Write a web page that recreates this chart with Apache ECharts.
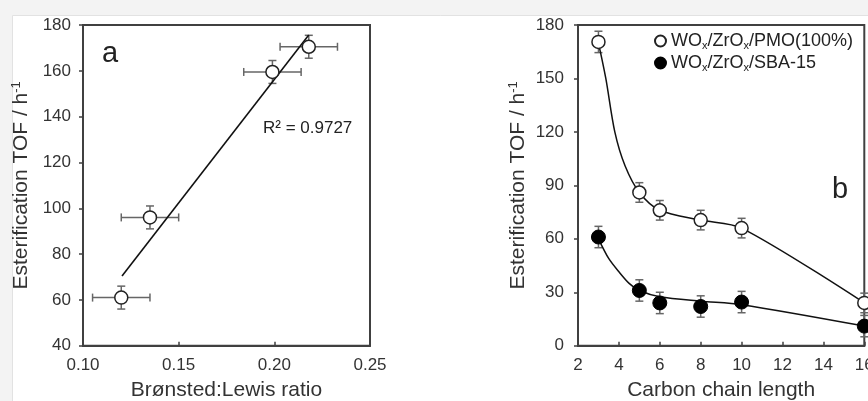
<!DOCTYPE html>
<html>
<head>
<meta charset="utf-8">
<script src="https://cdn.jsdelivr.net/npm/echarts@6/dist/echarts.min.js"></script>
<style>
html,body{margin:0;padding:0;background:#f3f3f3;}
#c{width:868px;height:401px;}
</style>
</head>
<body>
<div id="c"></div>
<script>
// ---- Panel a data ----
const ratioX = [0.120, 0.135, 0.199, 0.218];
const tofA = [61, 96, 159.5, 170.5];
const ratioErr = [0.015, 0.015, 0.015, 0.015];
const tofAErr = [5, 5, 5, 5];
const fitX = [0.1204, 0.218];
const fitY = [70.4, 175.6];
const r2Text = 'R² = 0.9727';
const xTicksA = [0.10, 0.15, 0.20, 0.25];
const yTicksA = [40, 60, 80, 100, 120, 140, 160, 180];

// ---- Panel b data ----
const chainLength = [3, 5, 6, 8, 10, 16];
const tofPMO = [170.5, 86, 76, 70.5, 66, 24];
const tofSBA = [61, 31, 24, 22, 24.5, 11];
const errPMO = [6, 5.5, 5.5, 5.5, 5.5, 5.5];
const errSBA = [6, 6, 6, 6, 6, 6];
// trend curves as traced in the picture
const curvePMOx = [3, 3.36, 3.8, 4.3, 5, 6, 8, 10, 16];
const curvePMOy = [170, 150, 120, 101, 86, 76, 70.5, 66, 24];
const curveSBAx = [3, 3.5, 4, 4.5, 5, 6, 8, 10, 16];
const curveSBAy = [60, 49, 41.5, 35, 31, 27.5, 25, 23, 11];
const xTicksB = [2, 4, 6, 8, 10, 12, 14, 16];
const yTicksB = [0, 30, 60, 90, 120, 150, 180];
const seriesNames = ['PMO', 'SBA'];
const legendLabels = {PMO: 'WO{sub|x}/ZrO{sub|x}/PMO(100%)', SBA: 'WO{sub|x}/ZrO{sub|x}/SBA-15'};

const FONT = '"Liberation Sans", Arial, sans-serif';
const AX = '#404040';

function zip(a, b) { return a.map((v, i) => [v, b[i]]); }
function errData(xs, ys, dxs, dys) { return xs.map((v, i) => [v, ys[i], dxs ? dxs[i] : 0, dys[i]]); }

function errRender(params, api) {
  const x = api.value(0), y = api.value(1), dx = api.value(2), dy = api.value(3);
  const st = {stroke: '#666', lineWidth: 1.5};
  const ch = [];
  const top = api.coord([x, y + dy]), bot = api.coord([x, y - dy]);
  ch.push({type: 'line', shape: {x1: top[0], y1: top[1], x2: bot[0], y2: bot[1]}, style: st});
  ch.push({type: 'line', shape: {x1: top[0] - 4, y1: top[1], x2: top[0] + 4, y2: top[1]}, style: st});
  ch.push({type: 'line', shape: {x1: bot[0] - 4, y1: bot[1], x2: bot[0] + 4, y2: bot[1]}, style: st});
  if (dx > 0) {
    const l = api.coord([x - dx, y]), r = api.coord([x + dx, y]);
    ch.push({type: 'line', shape: {x1: l[0], y1: l[1], x2: r[0], y2: r[1]}, style: st});
    ch.push({type: 'line', shape: {x1: l[0], y1: l[1] - 4, x2: l[0], y2: l[1] + 4}, style: st});
    ch.push({type: 'line', shape: {x1: r[0], y1: r[1] - 4, x2: r[0], y2: r[1] + 4}, style: st});
  }
  return {type: 'group', children: ch};
}

function yAxisCommon(min, max, interval, gridIndex, margin, gap) {
  return {
    type: 'value', gridIndex, min, max, interval,
    axisLine: {show: true, lineStyle: {color: AX, width: 2}},
    axisTick: {show: true, inside: false, length: 4, lineStyle: {color: AX, width: 1.5}},
    axisLabel: {color: '#333', fontSize: 17, fontFamily: FONT, margin},
    splitLine: {show: false},
    name: 'Esterification TOF / h{sup|-1}',
    nameLocation: 'middle', nameGap: gap,
    nameTextStyle: {color: '#333', fontSize: 21, fontFamily: FONT,
      rich: {sup: {fontSize: 13, fontFamily: FONT, color: '#333', padding: [0, 0, 10, 0]}}}
  };
}
function xAxisCommon(min, max, interval, gridIndex, name, fmt) {
  return {
    type: 'value', gridIndex, min, max, interval,
    axisLine: {show: true, lineStyle: {color: AX, width: 2}},
    axisTick: {show: true, inside: true, length: 4, lineStyle: {color: AX, width: 1.5}},
    axisLabel: {color: '#333', fontSize: 17, fontFamily: FONT, margin: 11, formatter: fmt},
    splitLine: {show: false},
    name, nameLocation: 'middle', nameGap: 34,
    nameTextStyle: {color: '#333', fontSize: 21, fontFamily: FONT}
  };
}

const chart = echarts.init(document.getElementById('c'), null, {renderer: 'canvas'});
const option = {
  animation: false,
  backgroundColor: '#f3f3f3',
  graphic: [
    {type: 'rect', z: -10, shape: {x: 12.5, y: 15.5, width: 870, height: 400}, style: {fill: '#fff', stroke: '#e2e2e2', lineWidth: 1}},
    {type: 'text', x: 102, y: 39, style: {text: 'a', fontSize: 29, fontFamily: FONT, fill: '#222'}},
    {type: 'text', x: 832, y: 175, style: {text: 'b', fontSize: 29, fontFamily: FONT, fill: '#222'}},
    {type: 'text', x: 263, y: 120, style: {text: r2Text, fontSize: 17, fontFamily: FONT, fill: '#222'}}
  ],
  grid: [
    {left: 83, top: 25, width: 287, height: 320.7, show: true, borderColor: AX, borderWidth: 2,
      backgroundColor: 'transparent', containLabel: false, outerBoundsMode: 'none'},
    {left: 578, top: 25, width: 286.3, height: 320.7, show: true, borderColor: AX, borderWidth: 2,
      backgroundColor: 'transparent', containLabel: false, outerBoundsMode: 'none'}
  ],
  xAxis: [
    xAxisCommon(xTicksA[0], xTicksA[xTicksA.length - 1], 0.05, 0, 'Brønsted:Lewis ratio', v => v.toFixed(2)),
    xAxisCommon(xTicksB[0], xTicksB[xTicksB.length - 1], 2, 1, 'Carbon chain length')
  ],
  yAxis: [
    yAxisCommon(yTicksA[0], yTicksA[yTicksA.length - 1], 20, 0, 12, 50),
    yAxisCommon(yTicksB[0], yTicksB[yTicksB.length - 1], 30, 1, 14, 48)
  ],
  legend: {
    orient: 'vertical', left: 649, top: 27, itemGap: 3,
    icon: 'circle', itemWidth: 11, itemHeight: 11,
    data: seriesNames,
    formatter: n => legendLabels[n],
    textStyle: {color: '#222', fontSize: 18, fontFamily: FONT,
      rich: {sub: {fontSize: 11, fontFamily: FONT, color: '#222', padding: [9, 0, 0, 0]}}}
  },
  series: [
    {type: 'custom', xAxisIndex: 0, yAxisIndex: 0, renderItem: errRender, clip: false,
      data: errData(ratioX, tofA, ratioErr, tofAErr), encode: {x: 0, y: 1}, z: 1, silent: true},
    {type: 'line', xAxisIndex: 0, yAxisIndex: 0, data: zip(fitX, fitY), showSymbol: false,
      lineStyle: {color: '#111', width: 1.6}, z: 2},
    {type: 'scatter', xAxisIndex: 0, yAxisIndex: 0, data: zip(ratioX, tofA), symbolSize: 13,
      itemStyle: {color: '#fff', borderColor: '#222', borderWidth: 1.5, opacity: 1}, z: 3},

    {type: 'custom', xAxisIndex: 1, yAxisIndex: 1, renderItem: errRender, clip: false,
      data: errData(chainLength, tofPMO, null, errPMO), encode: {x: 0, y: 1}, z: 1, silent: true},
    {type: 'custom', xAxisIndex: 1, yAxisIndex: 1, renderItem: errRender, clip: false,
      data: errData(chainLength, tofSBA, null, errSBA), encode: {x: 0, y: 1}, z: 1, silent: true},
    {type: 'line', xAxisIndex: 1, yAxisIndex: 1, data: zip(curvePMOx, curvePMOy),
      smooth: 0.3, clip: false, showSymbol: false, lineStyle: {color: '#111', width: 1.5}, z: 2},
    {type: 'line', xAxisIndex: 1, yAxisIndex: 1, data: zip(curveSBAx, curveSBAy),
      smooth: 0.3, clip: false, showSymbol: false, lineStyle: {color: '#111', width: 1.5}, z: 2},
    {name: 'PMO', type: 'scatter', xAxisIndex: 1, yAxisIndex: 1, data: zip(chainLength, tofPMO),
      clip: false, symbol: 'circle', symbolSize: 13,
      itemStyle: {color: '#fff', borderColor: '#222', borderWidth: 1.5, opacity: 1}, z: 3},
    {name: 'SBA', type: 'scatter', xAxisIndex: 1, yAxisIndex: 1, data: zip(chainLength, tofSBA),
      clip: false, symbol: 'circle', symbolSize: 14,
      itemStyle: {color: '#000', borderColor: '#000', borderWidth: 1, opacity: 1}, z: 3}
  ]
};
chart.setOption(option);
</script>
</body>
</html>
